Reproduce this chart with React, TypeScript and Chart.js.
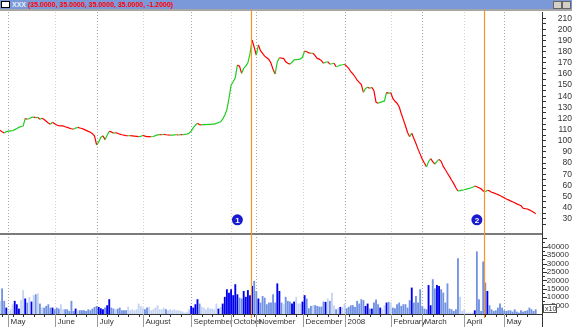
import React, { useEffect, useRef } from 'react';
import { Chart, registerables } from 'chart.js';

Chart.register(...registerables);

const FONT = "'Liberation Sans', Arial, sans-serif";

// Month labels shown on the time axis and number of trading days in each month of the data
const monthLabels = ['', 'May', 'June', 'July', 'August', 'September', 'October', 'November', 'December', '2008', 'February', 'March', 'April', 'May'];
const monthDays = [4, 22, 20, 22, 23, 19, 12, 22, 20, 22, 15, 20, 19, 16];

// Daily closing prices
const prices = [
  109.5, 108.0, 107.0, 108.2, 108.6, 108.8, 109.0, 110.0, 111.0, 112.0,
  112.8, 113.2, 120.0, 119.3, 120.0, 121.0, 121.2, 120.8, 121.0, 119.4,
  120.2, 119.0, 117.5, 116.0, 114.8, 116.6, 115.2, 114.2, 113.6, 113.4,
  113.3, 112.6, 112.0, 111.3, 110.8, 110.4, 111.4, 112.0, 111.5, 111.0,
  110.2, 109.3, 108.4, 107.6, 106.4, 104.2, 96.2, 99.0, 103.0, 104.5,
  101.0, 105.0, 108.4, 108.0, 106.7, 107.3, 106.8, 105.9, 105.4, 105.0,
  104.7, 104.5, 104.6, 104.4, 104.2, 104.0, 103.8, 104.0, 104.8, 104.2,
  103.8, 103.7, 103.6, 103.8, 104.6, 105.3, 105.5, 105.4, 105.8, 105.4,
  105.2, 105.0, 105.1, 105.3, 105.4, 105.2, 105.5, 105.4, 105.7, 106.0,
  106.8, 108.6, 111.5, 114.0, 115.7, 114.4, 114.2, 114.5, 114.5, 114.7,
  114.8, 115.0, 115.0, 115.6, 116.4, 117.0, 119.5, 123.0, 128.0, 138.0,
  150.0, 153.0, 156.5, 168.0, 167.0, 160.6, 165.0, 167.0, 170.0, 178.0,
  190.5, 184.0, 177.0, 186.0, 181.0, 178.5, 176.0, 174.5, 173.0, 169.6,
  164.0, 160.0, 171.0, 174.6, 174.2, 174.0, 171.0, 169.6, 168.8, 170.5,
  172.6, 172.8, 173.0, 173.5, 175.0, 180.6, 180.0, 179.0, 178.6, 178.6,
  176.5, 174.0, 173.3, 172.0, 169.6, 170.5, 171.0, 168.9, 169.2, 169.6,
  166.5, 167.2, 168.0, 168.3, 168.7, 167.0, 165.0, 162.0, 160.0, 157.5,
  154.5, 152.5, 150.5, 143.5, 147.0, 148.0, 147.2, 148.0, 145.0, 134.5,
  133.7, 134.5, 135.2, 135.8, 143.5, 142.6, 143.3, 138.0, 135.5, 133.7,
  130.6, 124.5, 119.0, 113.5, 107.5, 103.7, 106.7, 102.0, 97.5, 92.5,
  88.0, 83.5, 80.0, 76.7, 81.2, 83.9, 81.2, 79.0, 81.5, 83.3,
  81.5, 77.0, 74.0, 70.8, 67.8, 64.5, 61.5, 57.8, 54.9, 55.2,
  55.6, 56.0, 56.6, 57.0, 57.6, 58.2, 59.4, 58.7, 57.8, 56.8,
  55.0, 54.2, 55.6, 55.0, 53.8, 53.2, 52.4, 51.6, 50.8, 49.8,
  48.9, 47.7, 46.9, 46.0, 45.2, 44.3, 43.3, 42.5, 41.6, 39.4,
  39.0, 38.7, 37.9, 36.9, 35.8, 34.5,
];

// Daily volume
const volumes = [
  7600, 15000, 7600, 3600, 1600, 2600, 5600, 7600, 5600, 3000,
  8000, 14000, 9000, 6600, 10000, 7200, 11000, 11500, 12000, 6000,
  3600, 3600, 4600, 5600, 3600, 3600, 2600, 3600, 3000, 5600,
  2600, 2600, 2600, 1600, 7600, 1600, 3000, 2000, 2000, 2000,
  2000, 1600, 2600, 2000, 3000, 4000, 4600, 4000, 3200, 2600,
  3600, 5000, 8600, 3600, 3000, 2600, 3000, 3600, 2000, 2000,
  2000, 4200, 2000, 2600, 2000, 2600, 6000, 4600, 3600, 2600,
  3600, 4000, 2000, 2600, 3600, 5000, 2600, 2600, 3600, 2600,
  2000, 2600, 2000, 2600, 2000, 2000, 1600, 1200, 600, 1200,
  2600, 4600, 3600, 5600, 8600, 6000, 4200, 3600, 2600, 3600,
  3000, 3000, 2600, 6000, 3000, 4000, 6000, 10000, 14500, 12500,
  14500, 11000, 17500, 11500, 9500, 9000, 13500, 10000, 14000, 11000,
  16500, 19500, 13500, 9000, 6600, 10500, 9500, 5600, 6600, 6600,
  11500, 6600, 18000, 13500, 6600, 5600,
  10000, 7600, 7200, 6000, 7200, 10000, 6000, 6000, 7200, 11000,
  9000, 3200, 4600, 5000, 5000, 4600, 4200, 4200, 7200, 7000,
  9000, 7600, 12500, 4800, 2600, 3600, 4000, 4000, 6000, 3200,
  4000, 5000, 5000, 4000, 7600, 6000, 8600, 8000, 4600, 6000,
  3000, 3000, 6600, 8400, 5600, 3600, 2600, 5000, 6600, 7000,
  6600, 3600, 3200, 5600, 6600, 4600, 5600,
  5600, 3600, 8000, 15500, 6600, 10500, 6600, 14500, 4600, 3000,
  2600, 17000, 5000, 20500, 15000, 17000, 16500, 14500, 12500, 6600,
  18000, 3000, 2600, 1600, 2600, 33000, 10000, 1600, 2600, 600,
  600, 600, 600, 2000,
  37000, 8600, 1600, 31000, 18500, 13500, 5000, 2600, 1600, 2000,
  3600, 6000, 3600, 2000, 1600, 2000, 2000, 1200, 2600, 1200,
  600, 2000, 1200, 1600, 2000, 3600, 2600, 1600, 2600,
];

// Price axis ticks, volume axis ticks
const priceTicks = [25, 30, 35, 40, 45, 50, 55, 60, 65, 70, 75, 80, 85, 90, 95, 100, 105, 110, 115, 120, 125, 130, 135, 140, 145, 150, 155, 160, 165, 170, 175, 180, 185, 190, 195, 200, 205, 210];
const volumeTicks = [5000, 10000, 15000, 20000, 25000, 30000, 35000, 40000];

// Event markers (trading-day index) and numbered signals
const eventDays = [119.5, 230.5];
const signals = [
  { label: '1', day: 113, price: 29 },
  { label: '2', day: 227, price: 29 },
];

const PAD_DAYS = 3;

export default function App() {
  const canvasRef = useRef<HTMLCanvasElement | null>(null);

  useEffect(() => {
    const canvas = canvasRef.current;
    if (!canvas) return;

    const labels: string[] = [];
    const monthStarts: number[] = [];
    monthDays.forEach((n, m) => {
      monthStarts.push(labels.length);
      for (let d = 0; d < n; d++) labels.push(`${monthLabels[m] || 'Apr'} ${d + 1}`);
    });
    for (let k = 0; k < PAD_DAYS; k++) labels.push('');

    const priceData: (number | null)[] = [...prices];
    const volData: (number | null)[] = [...volumes];
    for (let k = 0; k < PAD_DAYS; k++) { priceData.push(null); volData.push(null); }

    const volColors = volumes.map((_, i) => {
      const d = i === 0 ? 0 : prices[i] - prices[i - 1];
      if (d > 0.8) return '#0000ee';
      if (d < -0.25) return '#7292e2';
      return '#c6d4f4';
    });

    const decor = {
      id: 'decor',
      beforeDatasetsDraw(chart: any) {
        const { ctx, chartArea: a, scales } = chart;
        const x = scales.x;
        ctx.save();
        ctx.setLineDash([1, 2]);
        ctx.lineWidth = 1;
        monthStarts.forEach((s, m) => {
          if (m === 0) return;
          const px = Math.round(x.getPixelForValue(s)) + 0.5;
          ctx.strokeStyle = m % 2 === 1 ? '#a8a8a8' : '#e2cfc8';
          ctx.beginPath();
          ctx.moveTo(px, a.top);
          ctx.lineTo(px, a.bottom);
          ctx.stroke();
        });
        ctx.setLineDash([]);
        ctx.fillStyle = '#7a7a7a';
        ctx.fillRect(0, 233, a.right, 2);
        ctx.restore();
      },
      afterDatasetsDraw(chart: any) {
        const { ctx, chartArea: a, scales } = chart;
        const { x, y } = scales;
        ctx.save();
        ctx.strokeStyle = '#ff9326';
        ctx.lineWidth = 1.2;
        eventDays.forEach((d) => {
          const px = Math.round(x.getPixelForValue(d)) + 0.5;
          ctx.beginPath();
          ctx.moveTo(px, a.top - 2);
          ctx.lineTo(px, a.bottom + 4);
          ctx.stroke();
        });
        signals.forEach((s) => {
          const cx = x.getPixelForValue(s.day);
          const cy = y.getPixelForValue(s.price);
          ctx.beginPath();
          ctx.arc(cx, cy, 5.5, 0, Math.PI * 2);
          ctx.fillStyle = '#1a1ad0';
          ctx.fill();
          ctx.fillStyle = '#ffffff';
          ctx.font = `bold 8px ${FONT}`;
          ctx.textAlign = 'center';
          ctx.textBaseline = 'middle';
          ctx.fillText(s.label, cx, cy + 0.5);
        });
        ctx.restore();
      },
      afterDraw(chart: any) {
        const { ctx, chartArea: a, scales } = chart;
        const { x, y2 } = scales;
        ctx.save();
        ctx.strokeStyle = '#333';
        ctx.lineWidth = 1;
        for (let v = 2500; v <= 45000; v += 2500) {
          const py = Math.round(y2.getPixelForValue(v)) + 0.5;
          const len = v % 5000 === 0 ? 5 : 3;
          ctx.beginPath();
          ctx.moveTo(a.right, py);
          ctx.lineTo(a.right + len, py);
          ctx.stroke();
        }
        ctx.beginPath();
        ctx.moveTo(Math.round(a.right) + 0.5, a.bottom);
        ctx.lineTo(Math.round(a.right) + 0.5, 327);
        ctx.stroke();
        ctx.fillStyle = '#333';
        ctx.font = `8px ${FONT}`;
        ctx.textAlign = 'right';
        ctx.textBaseline = 'middle';
        volumeTicks.forEach((v) => {
          ctx.fillText(String(v), 569, y2.getPixelForValue(v));
        });
        ctx.fillStyle = '#fff';
        ctx.fillRect(543, 304, 14, 9);
        ctx.strokeStyle = '#555';
        ctx.strokeRect(543.5, 304.5, 13, 8);
        ctx.fillStyle = '#333';
        ctx.font = `7px ${FONT}`;
        ctx.textAlign = 'left';
        ctx.fillText('x10', 545, 309);
        ctx.strokeStyle = '#333';
        ctx.beginPath();
        ctx.moveTo(0, Math.round(a.bottom) + 0.5);
        ctx.lineTo(a.right, Math.round(a.bottom) + 0.5);
        ctx.stroke();
        for (let i = 1; i < prices.length; i += 5) {
          const px = Math.round(x.getPixelForValue(i)) + 0.5;
          ctx.beginPath();
          ctx.moveTo(px, a.bottom);
          ctx.lineTo(px, a.bottom + 3);
          ctx.stroke();
        }
        ctx.font = `8px ${FONT}`;
        ctx.textBaseline = 'middle';
        monthStarts.forEach((s, m) => {
          if (m === 0) return;
          const px = Math.round(x.getPixelForValue(s)) + 0.5;
          ctx.strokeStyle = '#9a9a9a';
          ctx.beginPath();
          ctx.moveTo(px, a.bottom);
          ctx.lineTo(px, a.bottom + 13);
          ctx.stroke();
          ctx.fillStyle = '#333';
          ctx.fillText(monthLabels[m], px + 2, a.bottom + 8);
        });
        ctx.restore();
      },
    };

    const chart = new Chart(canvas, {
      data: {
        labels,
        datasets: [
          {
            type: 'line',
            data: priceData,
            yAxisID: 'y',
            borderWidth: 1.2,
            pointRadius: 0,
            borderColor: '#ff0000',
            segment: {
              borderColor: (c: any) => (c.p1.parsed.y >= c.p0.parsed.y ? '#22cc22' : '#ff0000'),
            },
            order: 0,
          } as any,
          {
            type: 'bar',
            data: volData,
            yAxisID: 'y2',
            backgroundColor: volColors,
            barThickness: 1.2,
            grouped: false,
            order: 1,
          } as any,
        ],
      },
      options: {
        animation: false,
        responsive: false,
        devicePixelRatio: 1,
        events: [],
        layout: { padding: { top: 12, bottom: 13, left: 0, right: 0 } },
        plugins: { legend: { display: false }, tooltip: { enabled: false } },
        scales: {
          x: { type: 'category', display: false, offset: false },
          y: {
            position: 'right',
            min: -55.6,
            max: 215.66,
            afterBuildTicks: (s: any) => {
              s.ticks = priceTicks.map((v) => ({ value: v }));
            },
            afterFit: (s: any) => {
              s.width = 30;
            },
            ticks: {
              autoSkip: false,
              callback: (v: any) => (Number(v) % 10 === 0 ? String(v) : ''),
              font: { family: FONT, size: 8.5 },
              color: '#333',
              padding: 5,
              crossAlign: 'far',
            },
            grid: { drawOnChartArea: false, drawTicks: true, tickLength: 4, color: '#333' },
            border: { display: true, color: '#333' },
          },
          y2: { display: false, min: 0, max: 179500 },
        },
      } as any,
      plugins: [decor],
    });

    return () => chart.destroy();
  }, []);

  return (
    <div style={{ position: 'relative', width: 572, height: 327, background: '#fff', overflow: 'hidden' }}>
      <style>{'body{margin:0}'}</style>
      <canvas ref={canvasRef} width={572} height={327} style={{ position: 'absolute', left: 0, top: 0 }} />
      <div
        style={{
          position: 'absolute', left: 0, top: 0, width: 572, height: 9,
          background: '#7b98d8', display: 'flex', alignItems: 'center',
          fontFamily: FONT, fontSize: 7, fontWeight: 'bold', lineHeight: '9px', whiteSpace: 'nowrap',
        }}
      >
        <span style={{ display: 'inline-block', width: 7, height: 5, background: '#fff', border: '1px solid #000', marginLeft: 1, marginRight: 2 }} />
        <span style={{ color: '#e8eefc', marginRight: 2 }}>XXX</span>
        <span style={{ color: '#ff0000' }}>(35.0000, 35.0000, 35.0000, 35.0000, -1.2000)</span>
        <span style={{ position: 'absolute', left: 553, top: 1, width: 7, height: 6, background: '#d4d0c8', border: '0.5px solid #666' }} />
        <span style={{ position: 'absolute', left: 562, top: 1, width: 7, height: 6, background: '#d4d0c8', border: '0.5px solid #666' }} />
      </div>
      <div style={{ position: 'absolute', left: 0, top: 9, width: 572, height: 2, background: '#a6a6a6' }} />
    </div>
  );
}
